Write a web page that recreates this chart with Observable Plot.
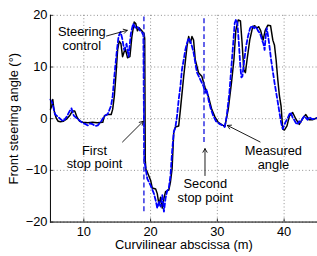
<!DOCTYPE html>
<html><head><meta charset="utf-8">
<script src="https://cdn.jsdelivr.net/npm/d3@7"></script>
<script src="https://cdn.jsdelivr.net/npm/@observablehq/plot@0.6"></script>
<style>
html,body{margin:0;padding:0;background:#fff;overflow:hidden;width:317px;height:256px}
#chart svg{display:block;font-family:"Liberation Sans",Arial,Helvetica,sans-serif}
</style>
</head><body><div id="chart"></div>
<script>
// black solid line (measured angle)
const measuredX = [5.0,5.2,5.35,5.5,5.67,5.9,6.16,6.5,6.9,7.4,7.89,8.3,8.64,8.98,9.38,9.87,10.6,11.3,12.0,12.84,13.09,13.6,14.1,14.32,14.57,14.82,15.06,15.3,15.56,15.8,16.2,16.55,16.9,17.2,17.54,17.78,18.03,18.27,18.68,19.02,19.12,19.2,19.3,19.5,20.0,20.25,20.76,21.0,21.26,21.5,21.75,22.0,22.24,22.73,22.98,23.22,23.47,23.72,24.21,24.47,24.96,25.45,25.7,25.95,26.2,26.44,26.69,27.18,27.67,28.17,28.66,29.16,29.65,30.15,30.7,31.14,31.63,32.12,32.48,32.77,33.12,33.46,33.71,33.96,34.2,34.45,34.85,35.3,35.6,35.9,36.2,36.5,36.85,37.17,37.57,37.97,38.31,38.56,38.8,39.05,39.3,39.54,39.79,40.04,40.43,40.79,41.28,41.77,42.27,42.76,43.25,43.75,44.24,45.0];
const measuredY = [1.8,2.5,3.7,2.0,0.9,0.0,-0.5,-0.6,-0.5,-0.1,0.6,1.5,1.5,0.3,-0.5,-0.7,-0.8,-0.7,-0.8,-0.7,0.6,0.8,0.8,1.8,4.4,8.6,13.3,15.0,14.5,12.0,13.6,11.8,12.0,15.9,18.7,18.4,17.0,17.6,17.0,16.5,15.5,-8.0,-9.8,-10.3,-11.9,-13.4,-13.6,-14.5,-16.7,-15.2,-17.3,-15.4,-14.1,-13.8,-12.2,-9.7,-2.6,-1.6,-1.4,1.8,8.2,14.0,15.9,14.6,15.9,15.2,11.4,8.9,8.2,6.0,4.3,1.8,0.3,-0.7,-1.2,-1.5,1.8,7.0,11.4,17.1,19.1,18.9,14.6,9.5,8.9,11.4,15.2,17.8,18.0,17.5,17.8,17.0,15.2,17.1,18.1,18.0,15.2,14.2,11.4,7.6,4.4,2.5,-2.0,-2.2,-1.4,0.5,1.2,-0.1,-1.1,0.0,0.8,-0.2,-0.2,0.2];
// blue dashed line (steering control)
const controlX = [5.0,5.3,5.67,6.16,6.9,7.4,7.89,8.15,8.49,9.13,9.87,10.2,10.6,11.0,11.35,11.7,12.09,12.6,13.09,13.58,14.08,14.32,14.57,14.91,15.2,15.5,15.75,16.05,16.4,16.7,17.05,17.39,17.69,18.03,18.38,18.68,18.92,19.0,19.05,19.27,19.5,20.0,20.5,20.76,21.0,21.26,21.5,21.75,22.0,22.24,22.48,22.73,22.98,23.22,23.47,23.72,23.96,24.21,24.47,24.7,24.96,25.2,25.45,25.7,25.95,26.2,26.44,26.93,27.43,27.92,28.17,28.4,28.7,29.0,29.4,29.8,30.3,30.8,31.1,31.4,31.8,32.1,32.4,32.6,32.8,33.0,33.2,33.45,33.6,33.75,34.0,34.3,34.6,34.9,35.2,35.5,35.8,36.1,36.4,36.7,36.9,37.08,37.25,37.4,37.6,37.75,38.05,38.56,39.05,39.54,39.8,40.2,40.5,40.8,41.0,41.25,41.5,41.75,42.0,42.25,42.5,42.75,43.0,43.25,43.5,43.75,44.0,44.25,45.0];
const controlY = [3.7,3.0,0.9,0.3,-0.5,0.3,1.5,2.0,0.6,-0.1,-0.9,-1.0,-1.3,-0.9,-1.1,-1.4,-1.3,-0.5,0.5,0.9,2.5,4.4,8.2,12.7,15.9,16.8,15.5,13.3,14.5,12.0,16.5,18.4,17.6,17.8,17.1,16.8,16.1,0.0,-8.0,-9.7,-11.6,-12.9,-14.5,-15.8,-17.3,-16.1,-17.0,-14.8,-18.0,-15.4,-14.0,-13.4,-11.0,-6.4,-2.6,-1.6,0.5,3.7,6.3,9.5,11.4,13.3,14.6,15.6,15.0,14.0,12.8,9.0,7.6,6.3,5.0,5.7,3.5,2.0,0.5,-0.5,-1.0,-1.3,-1.6,0.5,5.0,10.0,15.0,18.5,19.2,18.5,15.0,10.0,8.0,8.2,11.0,14.0,16.0,17.5,18.0,17.5,17.8,17.0,16.5,15.2,14.5,13.3,16.0,17.5,16.0,14.6,11.4,7.0,3.2,-0.7,-2.0,-0.7,0.0,0.9,1.2,0.3,-0.2,-0.8,-1.1,-0.5,-0.7,0.0,0.5,0.2,-0.2,0.3,0.1,-0.1,0.1];
// stop points (vertical dashed lines)
const stopX = [19.0, 28.0];
const stopTop = [19.7, 19.7];
const stopBottom = [-18.0, -4.6];
// annotations
const noteText = ["Steering\ncontrol", "First\nstop point", "Second\nstop point", "Measured\nangle"];
const noteX = [9.7, 11.6, 28.2, 38.4];
const noteY = [15.5, -7.4, -13.9, -7.5];
const arrowX1 = [13.4, 15.8, 28.15, 36.4];
const arrowY1 = [16.0, -4.5, -11.0, -4.5];
const arrowX2 = [16.5, 18.9, 28.15, 31.5];
const arrowY2 = [17.1, -0.5, -5.8, -1.3];
// axes
const xTicks = [10, 20, 30, 40];
const yTicks = [-20, -10, 0, 10, 20];
const xLabel = "Curvilinear abscissa (m)";
const yLabel = "Front steering angle (°)";

const measured = measuredX.map((x, i) => ({x, y: measuredY[i]}));
const control = controlX.map((x, i) => ({x, y: controlY[i]}));
const stops = stopX.map((x, i) => ({x, y1: stopBottom[i], y2: stopTop[i]}));
const notes = noteText.map((t, i) => ({t, x: noteX[i], y: noteY[i]}));
const arrows = arrowX1.map((x1, i) => ({x1, y1: arrowY1[i], x2: arrowX2[i], y2: arrowY2[i]}));
const fmt = d => d < 0 ? "\u2212" + (-d) : String(d);

const chart = Plot.plot({
  width: 320.5, height: 256,
  marginLeft: 50.5, marginRight: 0, marginTop: 15, marginBottom: 32,
  style: {fontFamily: '"Liberation Sans",Arial,Helvetica,sans-serif', fontSize: "13px", background: "#fff", color: "#000"},
  x: {domain: [5, 45]},
  y: {domain: [-20, 20]},
  marks: [
    Plot.gridX(xTicks, {stroke: "#000", strokeOpacity: 0.45, strokeDasharray: "1,2.4"}),
    Plot.gridY(yTicks, {stroke: "#000", strokeOpacity: 0.45, strokeDasharray: "1,2.4"}),
    Plot.ruleX(xTicks, {y1: -20, y2: -19.4, stroke: "#000", strokeWidth: 0.8}),
    Plot.ruleY(yTicks, {x1: 5, x2: 5.45, stroke: "#000", strokeWidth: 0.8}),
    Plot.axisX(xTicks, {tickSize: 0, tickPadding: 5, tickFormat: fmt, label: null, fontSize: 13}),
    Plot.axisY(yTicks, {tickSize: 0, tickPadding: 3, tickFormat: fmt, label: null, fontSize: 13}),
    Plot.line(measured, {x: "x", y: "y", stroke: "#000", strokeWidth: 1.5}),
    Plot.line(control, {x: "x", y: "y", stroke: "#0000ff", strokeWidth: 1.8, strokeDasharray: "4.5,2.5"}),
    Plot.ruleX(stops, {x: "x", y1: "y1", y2: "y2", stroke: "#2020e0", strokeWidth: 1.4, strokeDasharray: "5,3"}),
    Plot.ruleX([5], {stroke: "#000", strokeWidth: 1}),
    Plot.ruleY([-20], {stroke: "#000", strokeWidth: 1}),
    Plot.arrow(arrows, {x1: "x1", y1: "y1", x2: "x2", y2: "y2", stroke: "#000", strokeWidth: 0.9, headLength: 7}),
    Plot.text(notes, {x: "x", y: "y", text: "t", fontSize: 13, lineHeight: 1.05, fill: "#000", lineAnchor: "middle"}),
    Plot.text([xLabel], {frameAnchor: "bottom", text: d => d, dy: 23.5, fontSize: 13, fill: "#000", lineAnchor: "middle", textAnchor: "middle"}),
    Plot.text([yLabel], {frameAnchor: "left", text: d => d, dx: -37, rotate: -90, fontSize: 13, fill: "#000", lineAnchor: "middle", textAnchor: "middle"})
  ]
});
document.getElementById("chart").appendChild(chart);
</script>
</body></html>
